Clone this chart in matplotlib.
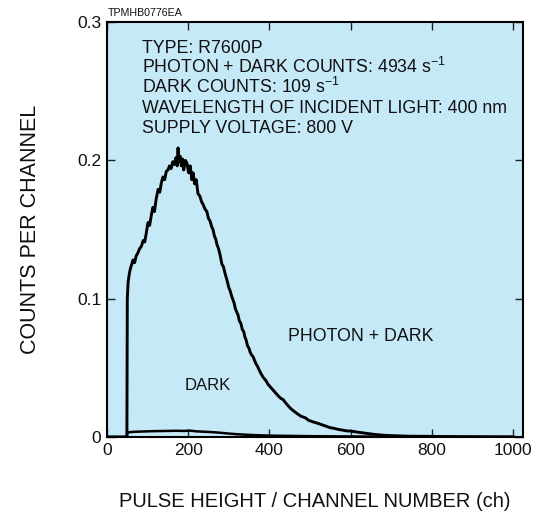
import matplotlib.pyplot as plt

plt.rcParams['font.family'] = ['Liberation Sans', 'DejaVu Sans']
plt.rcParams['mathtext.default'] = 'regular'

# photon + dark counts
ch_photon = [0, 49, 50, 52, 55, 57, 60, 64, 68, 72, 76, 80, 85, 89, 93, 97, 101, 105,
             109, 113, 117, 121, 126, 130, 134, 138, 142, 146, 150, 154, 158, 162,
             166, 170, 173, 175, 177, 180, 183, 186, 189, 193, 197, 201, 205, 209,
             212, 216, 220, 224, 229, 233, 237, 241, 246, 250, 254, 258, 261, 265,
             268, 271, 275, 279, 283, 287, 291, 296, 300, 303, 308, 313, 316, 320, 323,
             326, 330, 333, 337, 340, 343, 346, 350, 353, 357, 360, 364, 367, 371, 374,
             379, 385, 391, 397, 403, 409, 415, 421, 428, 434, 442, 451, 459, 468,
             478, 488, 497, 507, 518, 528, 538, 549, 560, 570, 580, 591, 599, 607,
             615, 623, 631, 640, 650, 661, 672, 686, 700, 720, 740, 770, 800,
             850, 900, 1000]
cnt_photon = [0, 0, 0.100, 0.112, 0.118, 0.121, 0.124, 0.128, 0.126, 0.131, 0.133,
              0.136, 0.138, 0.142, 0.141, 0.148, 0.155, 0.153, 0.160, 0.166, 0.163,
              0.172, 0.179, 0.177, 0.184, 0.188, 0.186, 0.192, 0.193, 0.196, 0.194,
              0.199, 0.197, 0.202, 0.196, 0.209, 0.199, 0.203, 0.196, 0.201, 0.193,
              0.200, 0.198, 0.191, 0.196, 0.186, 0.191, 0.183, 0.186, 0.176, 0.174,
              0.170, 0.168, 0.165, 0.163, 0.158, 0.156, 0.152, 0.150, 0.145, 0.143,
              0.139, 0.136, 0.131, 0.125, 0.123, 0.118, 0.113, 0.108, 0.106, 0.101,
              0.097, 0.093, 0.090, 0.088, 0.084, 0.082, 0.078, 0.076, 0.072, 0.070,
              0.066, 0.064, 0.061, 0.059, 0.058, 0.055, 0.053, 0.051, 0.049, 0.046,
              0.043, 0.041, 0.038, 0.036, 0.034, 0.032, 0.030, 0.028, 0.027, 0.024,
              0.021, 0.019, 0.017, 0.015, 0.014, 0.012, 0.011, 0.0100, 0.009, 0.0080,
              0.0068, 0.0062, 0.0055, 0.0050, 0.0044, 0.0043, 0.0040, 0.0036, 0.0033,
              0.0030, 0.0026, 0.0022, 0.0018, 0.0015, 0.0012, 0.0010, 0.0008, 0.0006,
              0.0005, 0.0004, 0.0003, 0.0002, 0.0001]

# dark counts only
ch_dark = [0, 49, 50, 55, 70, 90, 110, 130, 150, 170, 190, 204, 220, 240, 260, 278,
           300, 320, 352, 380, 400, 450, 500, 550, 600, 700, 800, 1000]
cnt_dark = [0, 0, 0.0030, 0.0035, 0.0038, 0.0040, 0.0042, 0.0043, 0.0044, 0.0045,
            0.0044, 0.0046, 0.0041, 0.0038, 0.0035, 0.0031, 0.0025, 0.0020, 0.0015,
            0.0012, 0.0010, 0.0008, 0.0006, 0.0005, 0.0004, 0.0002, 0.0001, 0.0]

info_lines = [
    'TYPE: R7600P',
    'PHOTON + DARK COUNTS: 4934 s$^{-1}$',
    'DARK COUNTS: 109 s$^{-1}$',
    'WAVELENGTH OF INCIDENT LIGHT: 400 nm',
    'SUPPLY VOLTAGE: 800 V',
]

fig = plt.figure(figsize=(5.41, 5.14), dpi=100)
ax = fig.add_axes([0.1978, 0.1498, 0.769, 0.8074])
ax.set_facecolor('#c6e9f8')

ax.plot(ch_photon, cnt_photon, color='black', lw=2.1)
ax.plot(ch_dark, cnt_dark, color='black', lw=1.8)

ax.set_xlim(0, 1025)
ax.set_ylim(0, 0.3)
ax.set_xticks([0, 200, 400, 600, 800, 1000])
ax.set_yticks([0, 0.1, 0.2, 0.3])
ax.set_yticklabels(['0', '0.1', '0.2', '0.3'])
ax.tick_params(direction='in', top=True, right=True, length=6, width=1,
               labelsize=12.5, pad=4, colors='#222222', labelcolor='#111111')
for s in ax.spines.values():
    s.set_linewidth(1.5)

ax.set_xlabel('PULSE HEIGHT / CHANNEL NUMBER (ch)', fontsize=14.5, labelpad=25,
              color='#111111')
ax.set_ylabel('COUNTS PER CHANNEL', fontsize=15.5, labelpad=26, color='#111111')

for i, line in enumerate(info_lines):
    ax.text(0.085, 0.925 - i * 0.0482, line, transform=ax.transAxes, fontsize=12.8,
            color='#111111', va='baseline')

ax.text(445, 0.0725, 'PHOTON + DARK', fontsize=12.8, color='#111111', va='center')
ax.text(192, 0.0370, 'DARK', fontsize=12, color='#111111', va='center')

fig.text(0.2, 0.975, 'TPMHB0776EA', fontsize=7.7, color='#111111', va='center')

plt.savefig('out.png', dpi=100)
